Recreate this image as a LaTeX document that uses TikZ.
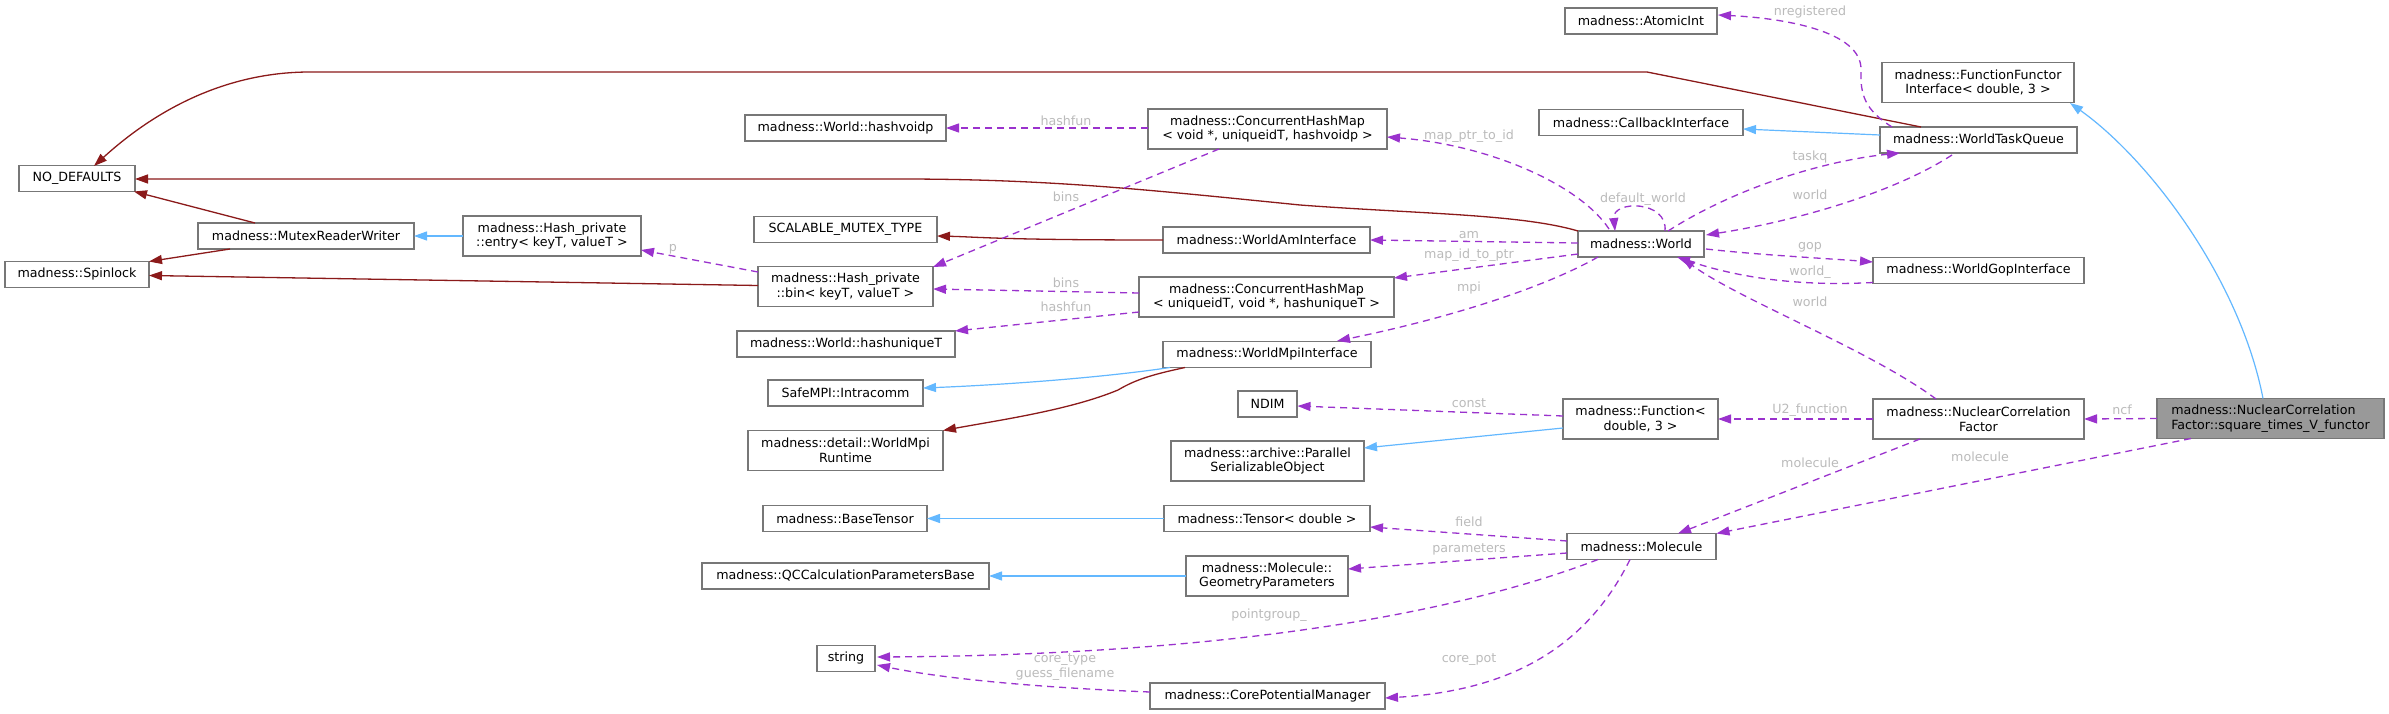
\documentclass[tikz,border=0pt]{standalone}
\usepackage{fontspec}
\setmainfont{DejaVu Sans}
\usetikzlibrary{arrows.meta,calc}
\definecolor{boxgray}{HTML}{777777}
\definecolor{fillgray}{HTML}{999999}
\definecolor{pubblue}{HTML}{63B8FF}
\definecolor{privred}{HTML}{8B1A1A}
\definecolor{usepurple}{HTML}{9A32CD}
\definecolor{labgray}{HTML}{BBBBBB}
\newcommand{\dxfont}{\fontsize{12.66}{14.6}\selectfont}
\begin{document}
\begin{tikzpicture}[x=1pt,y=-1pt,
  box/.style={draw=boxgray,line width=1.3pt,fill=white,minimum height=26pt,inner xsep=1pt,inner ysep=1pt,font=\dxfont},
  two/.style={minimum height=40pt,align=center},
  pub/.style={draw=pubblue,line width=1.2pt,-{Triangle[length=13pt,width=9pt]}},
  priv/.style={draw=privred,line width=1.3pt,-{Triangle[length=13pt,width=9pt]}},
  use/.style={draw=usepurple,line width=1.3pt,dash pattern=on 7pt off 5pt,-{Triangle[length=13pt,width=9pt]}},
  lbl/.style={text=labgray,font=\dxfont,inner sep=0pt,align=center}]
\fill[white] (0,0) rectangle (2389,714);
\useasboundingbox (0,0) rectangle (2389,714);

% nodes
\node[box,minimum width=116pt] (nodef) at (77,178.5) {NO\_DEFAULTS};
\node[box,minimum width=144pt] (spin) at (77,274.5) {madness::Spinlock};
\node[box,minimum width=216pt] (mrw) at (306,236) {madness::MutexReaderWriter};
\node[box,two,minimum width=178pt] (entry) at (552,236) {madness::Hash\_private\\::entry< keyT, valueT >};
\node[box,minimum width=201pt] (hvp) at (845.5,128) {madness::World::hashvoidp};
\node[box,minimum width=183pt] (scal) at (845.5,229.5) {SCALABLE\_MUTEX\_TYPE};
\node[box,two,minimum width=175pt] (bin) at (845.5,286.5) {madness::Hash\_private\\::bin< keyT, valueT >};
\node[box,minimum width=218pt] (huq) at (846,344) {madness::World::hashuniqueT};
\node[box,minimum width=155pt] (intra) at (845.5,393) {SafeMPI::Intracomm};
\node[box,two,minimum width=195pt] (rt) at (845.5,450.5) {madness::detail::WorldMpi\\Runtime};
\node[box,minimum width=164pt] (bt) at (845,518.5) {madness::BaseTensor};
\node[box,minimum width=287pt] (qc) at (845.5,576) {madness::QCCalculationParametersBase};
\node[box,minimum width=58pt] (str) at (846,658.5) {string};
\node[box,two,minimum width=239pt] (chmv) at (1267.5,129) {madness::ConcurrentHashMap\\< void *, uniqueidT, hashvoidp >};
\node[box,minimum width=207pt] (wai) at (1266.5,240) {madness::WorldAmInterface};
\node[box,two,minimum width=255pt] (chmu) at (1266.5,297) {madness::ConcurrentHashMap\\< uniqueidT, void *, hashuniqueT >};
\node[box,minimum width=208pt] (wmi) at (1267,354.5) {madness::WorldMpiInterface};
\node[box,minimum width=59pt] (ndim) at (1267.5,404) {NDIM};
\node[box,two,minimum width=193pt] (pso) at (1267.5,461) {madness::archive::Parallel\\SerializableObject};
\node[box,minimum width=206pt] (tensor) at (1267,518.5) {madness::Tensor< double >};
\node[box,two,minimum width=162pt] (gp) at (1267,576) {madness::Molecule::\\GeometryParameters};
\node[box,minimum width=235pt] (cpm) at (1267.5,696) {madness::CorePotentialManager};
\node[box,minimum width=152pt] (atomic) at (1641,21) {madness::AtomicInt};
\node[box,minimum width=204pt] (cb) at (1641,122.5) {madness::CallbackInterface};
\node[box,minimum width=126pt] (world) at (1641,244) {madness::World};
\node[box,two,minimum width=155pt] (func) at (1640.5,419) {madness::Function<\\double, 3 >};
\node[box,minimum width=149pt] (mol) at (1641.5,546.5) {madness::Molecule};
\node[box,two,minimum width=192pt] (ffi) at (1978,82.5) {madness::FunctionFunctor\\Interface< double, 3 >};
\node[box,minimum width=197pt] (wtq) at (1978.5,140) {madness::WorldTaskQueue};
\node[box,minimum width=211pt] (wgi) at (1978.5,270.5) {madness::WorldGopInterface};
\node[box,two,minimum width=211pt] (ncf) at (1978.5,419) {madness::NuclearCorrelation\\Factor};
\node[box,minimum height=40pt,align=left,fill=fillgray,minimum width=227pt] (functor) at (2270.5,418.5) {madness::NuclearCorrelation\\Factor::square\_times\_V\_functor};

% private inheritance (dark red)
\draw[priv] ($(wtq)+(-57.5,-13)$) -- (1647,72) -- (310,72) .. controls (220,72) and (150,115) .. ($(nodef)+(17,-12.5)$);
\draw[priv] ($(world)+(-63,-13)$) .. controls (1520,214) and (1420,214) .. (1300,205) .. controls (1150,190) and (1050,179) .. (900,179) -- ($(nodef)+(58,0.5)$);
\draw[priv] ($(mrw)+(-51,-13)$) -- ($(nodef)+(57,13)$);
\draw[priv] ($(mrw)+(-76,13)$) -- ($(spin)+(72,-13)$);
\draw[priv] ($(bin)+(-87.5,-1)$) -- ($(spin)+(72,1)$);
\draw[priv] ($(wai)+(-103.5,0)$) .. controls (1000,240) and (980,237) .. ($(scal)+(91.5,6.5)$);
\draw[priv] ($(wmi)+(-82,13)$) .. controls (1150,375) and (1135,380) .. (1118,390) .. controls (1070,410) and (1000,420) .. ($(rt)+(97.5,-20)$);

% public inheritance (blue)
\draw[pub] ($(entry)+(-89,0)$) -- ($(mrw)+(108,0)$);
\draw[pub] ($(wtq)+(-98.5,-5)$) -- ($(cb)+(102,6.5)$);
\draw[pub] ($(functor)+(-7.5,-20)$) .. controls (2240,280) and (2150,160) .. ($(ffi)+(92,20.5)$);
\draw[pub] ($(wmi)+(-97,13)$) .. controls (1100,378) and (1000,385) .. ($(intra)+(77.5,-5)$);
\draw[pub] ($(func)+(-77.5,9)$) -- ($(pso)+(96.5,-13)$);
\draw[pub] ($(tensor)+(-103,0)$) -- ($(bt)+(82,0)$);
\draw[pub] ($(gp)+(-81,0)$) -- ($(qc)+(143.5,0)$);

% usage (purple dashed)
\draw[use] ($(chmv)+(-119.5,-1)$) -- ($(hvp)+(100.5,0)$);
\draw[use] ($(chmv)+(-48.5,20)$) -- ($(bin)+(87.5,-19.5)$);
\draw[use] ($(chmu)+(-127.5,-4)$) -- ($(bin)+(87.5,2.5)$);
\draw[use] ($(chmu)+(-127.5,15)$) -- ($(huq)+(109,-13)$);
\draw[use] ($(bin)+(-87.5,-14.5)$) -- ($(entry)+(89,14)$);
\draw[use] ($(world)+(-32,-15)$) .. controls (1580,185) and (1490,145) .. ($(chmv)+(119.5,8)$);
\draw[use] ($(world)+(-63,-1)$) -- ($(wai)+(103.5,0)$);
\draw[use] ($(world)+(-63,10)$) -- ($(chmu)+(127.5,-19)$);
\draw[use] ($(world)+(-43,13)$) .. controls (1540,290) and (1440,320) .. ($(wmi)+(70,-13.5)$);
\draw[use] ($(world)+(24,-13)$) .. controls (1668,200) and (1612,200) .. ($(world)+(-26,-13)$);
\draw[use] ($(world)+(27,-13)$) .. controls (1740,185) and (1830,160) .. ($(wtq)+(-78.5,13)$);
\draw[use] ($(wtq)+(-26.5,15)$) .. controls (1890,195) and (1790,222) .. ($(world)+(65,-9)$);
\draw[use] ($(wtq)+(-86.5,-13)$) .. controls (1865,110) and (1860,95) .. (1861,70) .. controls (1862,30) and (1780,18) .. ($(atomic)+(77,-6)$);
\draw[use] ($(world)+(65,5)$) .. controls (1760,255) and (1820,258) .. ($(wgi)+(-105.5,-8.5)$);
\draw[use] ($(wgi)+(-105.5,12)$) .. controls (1790,287) and (1730,275) .. ($(world)+(36,13)$);
\draw[use] ($(ncf)+(-42.5,-20)$) .. controls (1870,350) and (1740,300) .. ($(world)+(41,14)$);
\draw[use] ($(functor)+(-113.5,0)$) -- ($(ncf)+(105.5,0)$);
\draw[use] ($(ncf)+(-105.5,0)$) -- ($(func)+(77.5,0)$);
\draw[use] ($(ncf)+(-58.5,20)$) -- ($(mol)+(36.5,-13)$);
\draw[use] ($(functor)+(-79.5,20)$) -- ($(mol)+(75,-13)$);
\draw[use] ($(func)+(-77.5,-3)$) -- ($(ndim)+(30,2)$);
\draw[use] ($(mol)+(-74.5,-5.5)$) -- ($(tensor)+(103,8.5)$);
\draw[use] ($(mol)+(-74.5,6.5)$) -- ($(gp)+(81,-7)$);
\draw[use] ($(mol)+(-43.5,13)$) .. controls (1440,620) and (1200,655) .. ($(str)+(31,-1.5)$);
\draw[use] ($(mol)+(-11.5,13)$) .. controls (1590,640) and (1520,690) .. ($(cpm)+(117.5,2)$);
\draw[use] ($(cpm)+(-117.5,-4)$) .. controls (1050,688) and (950,680) .. ($(str)+(31,6.5)$);

% labels
\node[lbl] (l1) at (1066,121) {hashfun};
\node[lbl] (l2) at (1066,197) {bins};
\node[lbl] (l3) at (1066,283) {bins};
\node[lbl] (l4) at (1066,307) {hashfun};
\node[lbl] (l5) at (673,249) {p};
\node[lbl] (l6) at (1469,136) {map\_ptr\_to\_id};
\node[lbl] (l7) at (1469,235) {am};
\node[lbl] (l8) at (1469,255) {map\_id\_to\_ptr};
\node[lbl] (l9) at (1469,288) {mpi};
\node[lbl] (l10) at (1643,199) {default\_world};
\node[lbl] (l11) at (1810,157) {taskq};
\node[lbl] (l12) at (1810,195) {world};
\node[lbl] (l13) at (1810,12) {nregistered};
\node[lbl] (l14) at (1810,247) {gop};
\node[lbl] (l15) at (1810,272) {world\_};
\node[lbl] (l16) at (1810,302) {world};
\node[lbl] (l17) at (2122,410) {ncf};
\node[lbl] (l18) at (1810,410) {U2\_function};
\node[lbl] (l19) at (1810,463) {molecule};
\node[lbl] (l20) at (1980,457) {molecule};
\node[lbl] (l21) at (1469,403) {const};
\node[lbl] (l22) at (1469,522) {field};
\node[lbl] (l23) at (1469,549) {parameters};
\node[lbl] (l24) at (1269,615) {pointgroup\_};
\node[lbl] (l25) at (1469,660) {core\_pot};
\node[lbl] (l26) at (1065,667) {core\_type\\guess\_filename};
\end{tikzpicture}
\end{document}
